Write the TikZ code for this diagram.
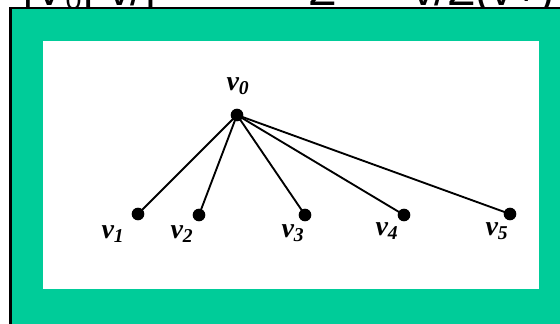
\documentclass[tikz,border=0pt]{standalone}
\usepackage{fontspec}
\setmainfont{Liberation Serif}
\newfontfamily\topfont{Liberation Sans}
\definecolor{tealbg}{HTML}{00CC99}
\begin{document}
\begin{tikzpicture}[x=0.75pt,y=-0.75pt,
  dot/.style={circle,fill=black,inner sep=0pt,minimum size=9.5pt},
  lbl/.style={font=\fontsize{21}{21}\selectfont\bfseries\itshape,inner sep=0pt},
  edge/.style={line width=1.4pt}]
\useasboundingbox (0,0) rectangle (560,324);
\clip (0,0) rectangle (560,324);
\fill[white] (0,0) rectangle (560,324);
\node[anchor=base west,font=\topfont\fontsize{34}{34}\selectfont,inner sep=0pt] (eq) at (22,6) {|V₀[ v/]\ \ \ \ \ \ =\ \ \ \ Σ\ \ \ \ \ \ v/Σ(v+)};
\draw[fill=tealbg,line width=1.6pt] (10.5,8) rectangle (590,340);
\fill[white] (43,41) rectangle (539,289);
\node[dot] (v0) at (237,115) {};
\node[dot] (v1) at (138,214) {};
\node[dot] (v2) at (199,215) {};
\node[dot] (v3) at (305,215) {};
\node[dot] (v4) at (404,215) {};
\node[dot] (v5) at (510,214) {};
\foreach \i in {1,...,5} \draw[edge] (v0.center) -- (v\i.center);
\node[lbl] (l0) at (238,86) {v\textsubscript{0}};
\node[lbl] (l1) at (113,234) {v\textsubscript{1}};
\node[lbl] (l2) at (182,234) {v\textsubscript{2}};
\node[lbl] (l3) at (293,233) {v\textsubscript{3}};
\node[lbl] (l4) at (387,231) {v\textsubscript{4}};
\node[lbl] (l5) at (497,231) {v\textsubscript{5}};
\end{tikzpicture}
\end{document}
